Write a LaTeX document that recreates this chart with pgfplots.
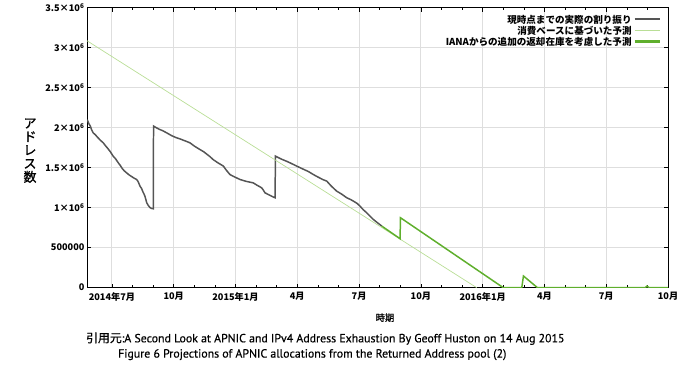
\documentclass[border=0pt]{standalone}
\usepackage{fontspec}
\setmainfont{Noto Sans CJK JP}
\newfontfamily\jp{Noto Sans CJK JP}
\newfontfamily\jpb{Noto Sans CJK JP}[FakeBold=1.2]
\newfontfamily\ptb{PT Sans}[FakeBold=0.5]
\usepackage{pgfplots}
\pgfplotsset{compat=1.18}
\definecolor{actual}{RGB}{85,85,85}
\definecolor{lightg}{RGB}{185,222,150}
\definecolor{iana}{RGB}{95,175,45}
\definecolor{gridc}{RGB}{222,222,222}
\begin{document}
\begin{tikzpicture}[x=1bp,y=1bp]
\path (0,0) rectangle (700,374);
\begin{axis}[
  at={(87bp,89bp)}, anchor=south west, scale only axis,
  width=581bp, height=280bp,
  xmin=4.79, xmax=33, ymin=0, ymax=3.5,
  xtick={6,9,...,33},
  xticklabels={2014年7月,10月,2015年1月,4月,7月,10月,2016年1月,4月,7月,10月},
  minor x tick num=2,
  ytick={0,0.5,1,1.5,2,2.5,3,3.5},
  yticklabels={0,500000,1×10\textsuperscript{6},1.5×10\textsuperscript{6},2×10\textsuperscript{6},2.5×10\textsuperscript{6},3×10\textsuperscript{6},3.5×10\textsuperscript{6}},
  grid=major, major grid style={gridc, line width=0.9pt},
  tick align=inside,
  major tick length=4bp, minor tick length=2.5bp,
  every tick/.style={black, line width=0.6pt},
  axis line style={black, line width=0.9pt},
  tick label style={font=\jp\bfseries\fontsize{9.2}{10}\selectfont},
  xticklabel style={yshift=-1bp},
  yticklabel style={xshift=1bp},
  clip=true,
  legend plot pos=right,
  legend cell align=right,
  legend style={at={(1,1)}, anchor=north east, xshift=-6bp, yshift=-4bp,
    draw=none, fill=none, font=\jp\bfseries\fontsize{9.6}{10}\selectfont,
    row sep=-2.5bp, inner sep=1bp},
]
\addplot[actual, line width=1.5pt,
  legend image code/.code={\draw[actual, line width=2.2pt] (0bp,0.5bp) -- (25bp,0.5bp);}] coordinates {
(4.80,2.10) (4.88,2.05) (4.95,2.02) (5.02,1.97) (5.09,1.935) (5.20,1.91) (5.30,1.88)
(5.45,1.84) (5.58,1.81) (5.70,1.77) (5.80,1.74) (5.92,1.70) (6.06,1.644) (6.18,1.61)
(6.31,1.56) (6.40,1.53) (6.50,1.49) (6.60,1.46) (6.71,1.436) (6.83,1.41) (6.95,1.39)
(7.07,1.37) (7.20,1.352) (7.26,1.33) (7.30,1.31) (7.36,1.27) (7.44,1.24) (7.50,1.20)
(7.56,1.17) (7.60,1.145) (7.65,1.10) (7.69,1.061) (7.76,1.03) (7.85,1.0) (7.93,0.99)
(8.01,0.986) (8.02,2.02) (8.15,2.00) (8.30,1.98) (8.48,1.96) (8.66,1.935) (8.90,1.90)
(9.14,1.873) (9.30,1.86) (9.50,1.84) (9.65,1.825) (9.79,1.81) (10.00,1.77) (10.27,1.727)
(10.45,1.70) (10.60,1.67) (10.75,1.64) (10.92,1.60) (11.15,1.56) (11.41,1.52) (11.55,1.47)
(11.73,1.414) (11.95,1.385) (12.22,1.352) (12.50,1.33) (12.86,1.31) (13.05,1.28) (13.27,1.248)
(13.35,1.22) (13.43,1.186) (13.55,1.17) (13.70,1.15) (13.82,1.135) (13.92,1.124)
(13.94,1.644) (14.20,1.61) (14.48,1.58) (14.65,1.56) (14.81,1.54) (15.05,1.51) (15.30,1.48)
(15.55,1.45) (15.78,1.414) (15.95,1.39) (16.10,1.37) (16.25,1.35) (16.43,1.332) (16.65,1.27)
(16.91,1.207) (17.15,1.17) (17.40,1.124) (17.60,1.10) (17.80,1.07) (17.92,1.05) (18.04,1.02)
(18.20,0.975) (18.37,0.936) (18.53,0.895) (18.69,0.853) (18.90,0.81) (19.10,0.77)
};
\addlegendentry{現時点までの実際の割り振り}
\addplot[lightg, line width=0.7pt,
  legend image code/.code={\draw[lightg, line width=0.9pt] (0bp,0.5bp) -- (25bp,0.5bp);}] coordinates {(4.786,3.087) (23.71,0)};
\addlegendentry{消費ベースに基づいた予測}
\addplot[iana, line width=1.5pt,
  legend image code/.code={\draw[iana, line width=2.2pt] (0bp,0.5bp) -- (25bp,0.5bp);}] coordinates {
(19.10,0.77) (19.99,0.612) (20.01,0.874) (25.00,0.0) (25.90,0.0) (25.98,0.146)
(26.66,0.0) (31.89,0.0) (31.98,0.02) (32.08,0.0) (33.0,0.0)
};
\addlegendentry{IANAからの追加の返却在庫を考慮した予測}
\end{axis}
\node[font=\jpb\fontsize{9.3}{10}\selectfont] at (385,59) {時期};
\node[font=\jpb\fontsize{13}{13.5}\selectfont, align=center, inner sep=0pt] at (30,226) {ア\\ド\\レ\\ス\\数};
\node[anchor=west, inner sep=0pt, font=\fontsize{11.9}{12}\selectfont] at (86,38) {\jpb 引用元\ptb :A Second Look at APNIC and IPv4 Address Exhaustion By Geoff Huston on 14 Aug 2015};
\node[anchor=west, inner sep=0pt, font=\fontsize{11.9}{12}\selectfont] at (118,22) {\ptb Figure 6 Projections of APNIC allocations from the Returned Address pool (2)};
\end{tikzpicture}
\end{document}
